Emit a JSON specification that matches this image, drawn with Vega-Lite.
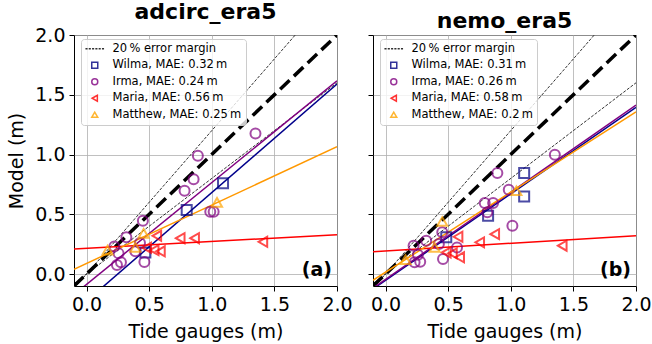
{
  "$schema": "https://vega.github.io/schema/vega-lite/v6.json",
  "padding": {"left": 7, "top": 0, "right": 0, "bottom": 0},
  "background": "white",
  "config": {
    "font": "DejaVu Sans",
    "view": {"stroke": "black", "strokeWidth": 1},
    "point": {"size": 100},
    "axis": {
      "labelFont": "DejaVu Sans", "labelFontSize": 19, "labelColor": "black",
      "titleFont": "DejaVu Sans", "titleFontSize": 19, "titleFontWeight": "normal", "titleColor": "black",
      "tickColor": "black", "tickSize": 5, "domain": false,
      "grid": true, "gridColor": "#b0b0b0", "gridWidth": 0.8,
      "labelPadding": 4, "titlePadding": 8
    },
    "title": {"font": "DejaVu Sans", "fontSize": 22, "fontWeight": "bold", "color": "black", "offset": 2},
    "legend": {
      "orient": "none", "legendX": 7, "legendY": 4,
      "fillColor": "rgba(255,255,255,0.8)", "strokeColor": "#cccccc", "cornerRadius": 3,
      "padding": 4, "labelFont": "DejaVu Sans", "labelFontSize": 11.5, "labelColor": "black",
      "symbolSize": 36, "symbolStrokeWidth": 1.5, "rowPadding": 3.5, "labelOffset": 12,
      "symbolOffset": 4, "labelLimit": 0, "symbolOpacity": 0.8
    }
  },
  "datasets": {
    "refs": [
      {"line": "1:1", "obs": -0.1, "model": -0.1},
      {"line": "1:1", "obs": 2.0, "model": 2.0},
      {"line": "+20%", "obs": -0.1, "model": -0.12},
      {"line": "+20%", "obs": 2.0, "model": 2.4},
      {"line": "-20%", "obs": -0.1, "model": -0.08},
      {"line": "-20%", "obs": 2.0, "model": 1.6}
    ],
    "fits": [
      {"panel": "adcirc_era5", "storm": "Wilma", "obs": -0.1, "model": -0.317},
      {"panel": "adcirc_era5", "storm": "Wilma", "obs": 2.0, "model": 1.59},
      {"panel": "adcirc_era5", "storm": "Irma", "obs": -0.1, "model": -0.172},
      {"panel": "adcirc_era5", "storm": "Irma", "obs": 2.0, "model": 1.617},
      {"panel": "adcirc_era5", "storm": "Maria", "obs": -0.1, "model": 0.21},
      {"panel": "adcirc_era5", "storm": "Maria", "obs": 2.0, "model": 0.329},
      {"panel": "adcirc_era5", "storm": "Matthew", "obs": -0.1, "model": 0.04},
      {"panel": "adcirc_era5", "storm": "Matthew", "obs": 2.0, "model": 1.065},
      {"panel": "nemo_era5", "storm": "Wilma", "obs": -0.1, "model": -0.125},
      {"panel": "nemo_era5", "storm": "Wilma", "obs": 2.0, "model": 1.394},
      {"panel": "nemo_era5", "storm": "Irma", "obs": -0.1, "model": -0.118},
      {"panel": "nemo_era5", "storm": "Irma", "obs": 2.0, "model": 1.413},
      {"panel": "nemo_era5", "storm": "Maria", "obs": -0.1, "model": 0.187},
      {"panel": "nemo_era5", "storm": "Maria", "obs": 2.0, "model": 0.321},
      {"panel": "nemo_era5", "storm": "Matthew", "obs": -0.1, "model": -0.052},
      {"panel": "nemo_era5", "storm": "Matthew", "obs": 2.0, "model": 1.357}
    ],
    "points": [
      {"panel": "adcirc_era5", "storm": "Wilma", "obs": 0.47, "model": 0.18},
      {"panel": "adcirc_era5", "storm": "Wilma", "obs": 0.8, "model": 0.535},
      {"panel": "adcirc_era5", "storm": "Wilma", "obs": 1.09, "model": 0.76},
      {"panel": "adcirc_era5", "storm": "Irma", "obs": 0.222, "model": 0.231},
      {"panel": "adcirc_era5", "storm": "Irma", "obs": 0.318, "model": 0.307},
      {"panel": "adcirc_era5", "storm": "Irma", "obs": 0.256, "model": 0.173},
      {"panel": "adcirc_era5", "storm": "Irma", "obs": 0.243, "model": 0.075},
      {"panel": "adcirc_era5", "storm": "Irma", "obs": 0.275, "model": 0.098},
      {"panel": "adcirc_era5", "storm": "Irma", "obs": 0.39, "model": 0.19},
      {"panel": "adcirc_era5", "storm": "Irma", "obs": 0.427, "model": 0.259},
      {"panel": "adcirc_era5", "storm": "Irma", "obs": 0.45, "model": 0.446},
      {"panel": "adcirc_era5", "storm": "Irma", "obs": 0.462, "model": 0.1},
      {"panel": "adcirc_era5", "storm": "Irma", "obs": 0.783, "model": 0.697},
      {"panel": "adcirc_era5", "storm": "Irma", "obs": 0.855, "model": 0.794},
      {"panel": "adcirc_era5", "storm": "Irma", "obs": 0.889, "model": 0.989},
      {"panel": "adcirc_era5", "storm": "Irma", "obs": 0.988, "model": 0.521},
      {"panel": "adcirc_era5", "storm": "Irma", "obs": 1.015, "model": 0.521},
      {"panel": "adcirc_era5", "storm": "Irma", "obs": 1.349, "model": 1.176},
      {"panel": "adcirc_era5", "storm": "Maria", "obs": 0.561, "model": 0.32},
      {"panel": "adcirc_era5", "storm": "Maria", "obs": 0.748, "model": 0.3},
      {"panel": "adcirc_era5", "storm": "Maria", "obs": 0.863, "model": 0.3},
      {"panel": "adcirc_era5", "storm": "Maria", "obs": 1.408, "model": 0.27},
      {"panel": "adcirc_era5", "storm": "Maria", "obs": 0.48, "model": 0.22},
      {"panel": "adcirc_era5", "storm": "Maria", "obs": 0.54, "model": 0.2},
      {"panel": "adcirc_era5", "storm": "Maria", "obs": 0.59, "model": 0.19},
      {"panel": "adcirc_era5", "storm": "Matthew", "obs": 0.168, "model": 0.2},
      {"panel": "adcirc_era5", "storm": "Matthew", "obs": 0.39, "model": 0.223},
      {"panel": "adcirc_era5", "storm": "Matthew", "obs": 0.456, "model": 0.34},
      {"panel": "adcirc_era5", "storm": "Matthew", "obs": 1.042, "model": 0.6},
      {"panel": "nemo_era5", "storm": "Wilma", "obs": 1.107, "model": 0.845},
      {"panel": "nemo_era5", "storm": "Wilma", "obs": 1.107, "model": 0.649},
      {"panel": "nemo_era5", "storm": "Wilma", "obs": 0.819, "model": 0.488},
      {"panel": "nemo_era5", "storm": "Wilma", "obs": 0.485, "model": 0.307},
      {"panel": "nemo_era5", "storm": "Irma", "obs": 0.224, "model": 0.237},
      {"panel": "nemo_era5", "storm": "Irma", "obs": 0.325, "model": 0.279},
      {"panel": "nemo_era5", "storm": "Irma", "obs": 0.259, "model": 0.161},
      {"panel": "nemo_era5", "storm": "Irma", "obs": 0.232, "model": 0.098},
      {"panel": "nemo_era5", "storm": "Irma", "obs": 0.277, "model": 0.103},
      {"panel": "nemo_era5", "storm": "Irma", "obs": 0.426, "model": 0.251},
      {"panel": "nemo_era5", "storm": "Irma", "obs": 0.453, "model": 0.349},
      {"panel": "nemo_era5", "storm": "Irma", "obs": 0.459, "model": 0.125},
      {"panel": "nemo_era5", "storm": "Irma", "obs": 0.571, "model": 0.223},
      {"panel": "nemo_era5", "storm": "Irma", "obs": 0.792, "model": 0.594},
      {"panel": "nemo_era5", "storm": "Irma", "obs": 0.813, "model": 0.516},
      {"panel": "nemo_era5", "storm": "Irma", "obs": 0.859, "model": 0.594},
      {"panel": "nemo_era5", "storm": "Irma", "obs": 0.893, "model": 0.845},
      {"panel": "nemo_era5", "storm": "Irma", "obs": 0.984, "model": 0.705},
      {"panel": "nemo_era5", "storm": "Irma", "obs": 1.013, "model": 0.404},
      {"panel": "nemo_era5", "storm": "Irma", "obs": 1.352, "model": 0.998},
      {"panel": "nemo_era5", "storm": "Maria", "obs": 0.579, "model": 0.312},
      {"panel": "nemo_era5", "storm": "Maria", "obs": 0.752, "model": 0.265},
      {"panel": "nemo_era5", "storm": "Maria", "obs": 0.872, "model": 0.334},
      {"panel": "nemo_era5", "storm": "Maria", "obs": 1.411, "model": 0.237},
      {"panel": "nemo_era5", "storm": "Maria", "obs": 0.485, "model": 0.181},
      {"panel": "nemo_era5", "storm": "Maria", "obs": 0.534, "model": 0.173},
      {"panel": "nemo_era5", "storm": "Maria", "obs": 0.592, "model": 0.14},
      {"panel": "nemo_era5", "storm": "Matthew", "obs": 0.16, "model": 0.12},
      {"panel": "nemo_era5", "storm": "Matthew", "obs": 0.392, "model": 0.223},
      {"panel": "nemo_era5", "storm": "Matthew", "obs": 0.453, "model": 0.44},
      {"panel": "nemo_era5", "storm": "Matthew", "obs": 1.045, "model": 0.697}
    ]
  },
  "spacing": 36,
  "bounds": "flush",
  "resolve": {
    "scale": {"color": "independent", "shape": "independent", "stroke": "independent"},
    "legend": {"color": "independent", "shape": "independent"}
  },
  "hconcat": [
    {
      "width": 263, "height": 251,
      "title": {"text": "adcirc_era5"},
      "layer": [
        {"data": {"name": "refs"}, "transform": [{"filter": "datum.line != '1:1'"}],
         "mark": {"type": "line", "clip": true, "stroke": "black", "strokeWidth": 0.8, "strokeDash": [3, 1.5]},
         "encoding": {
           "x": {"field": "obs", "type": "quantitative", "scale": {"domain": [-0.1, 2], "nice": false, "zero": false}, "axis": {"values": [0, 0.5, 1, 1.5, 2], "format": ".1f", "title": "Tide gauges (m)", "labelFlush": false}},
           "y": {"field": "model", "type": "quantitative", "scale": {"domain": [-0.1, 2], "nice": false, "zero": false}, "axis": {"values": [0, 0.5, 1, 1.5, 2], "format": ".1f", "title": "Model (m)"}},
           "detail": {"field": "line"}}},
        {"data": {"name": "refs"}, "transform": [{"filter": "datum.line == '1:1'"}],
         "mark": {"type": "line", "clip": true, "stroke": "black", "strokeWidth": 3.5, "strokeDash": [13, 6]},
         "encoding": {
           "x": {"field": "obs", "type": "quantitative", "axis": {"values": [0, 0.5, 1, 1.5, 2], "format": ".1f", "title": "Tide gauges (m)", "labelFlush": false}},
           "y": {"field": "model", "type": "quantitative", "axis": {"values": [0, 0.5, 1, 1.5, 2], "format": ".1f", "title": "Model (m)"}}}},
        {"data": {"name": "fits"}, "transform": [{"filter": "datum.panel == 'adcirc_era5'"}],
         "mark": {"type": "line", "clip": true, "strokeWidth": 1.5},
         "encoding": {
           "x": {"field": "obs", "type": "quantitative", "axis": {"values": [0, 0.5, 1, 1.5, 2], "format": ".1f", "title": "Tide gauges (m)", "labelFlush": false}},
           "y": {"field": "model", "type": "quantitative", "axis": {"values": [0, 0.5, 1, 1.5, 2], "format": ".1f", "title": "Model (m)"}},
           "stroke": {"field": "storm", "type": "nominal",
           "scale": {"domain": ["Wilma", "Irma", "Maria", "Matthew"], "range": ["#00008b", "#800080", "#ff0000", "#ff9800"]}, "legend": null}}},
        {"data": {"name": "points"}, "transform": [{"filter": "datum.panel == 'adcirc_era5'"}],
         "mark": {"type": "point", "filled": false, "strokeWidth": 2, "opacity": 0.7},
         "encoding": {
           "x": {"field": "obs", "type": "quantitative", "axis": {"values": [0, 0.5, 1, 1.5, 2], "format": ".1f", "title": "Tide gauges (m)", "labelFlush": false}},
           "y": {"field": "model", "type": "quantitative", "axis": {"values": [0, 0.5, 1, 1.5, 2], "format": ".1f", "title": "Model (m)"}},
           "color": {"field": "storm", "type": "nominal",
             "scale": {"domain": ["20% error margin", "Wilma", "Irma", "Maria", "Matthew"], "range": ["#000000", "#000080", "#800080", "#ff0000", "#ffa500"]},
             "legend": {"title": null, "symbolSize": 36, "labelExpr": "datum.label == 'Wilma' ? 'Wilma, MAE: 0.32\u2009m' : datum.label == 'Irma' ? 'Irma, MAE: 0.24\u2009m' : datum.label == 'Maria' ? 'Maria, MAE: 0.56\u2009m' : datum.label == 'Matthew' ? 'Matthew, MAE: 0.25\u2009m' : '20\u2009% error margin'"}},
           "shape": {"field": "storm", "type": "nominal",
             "scale": {"domain": ["20% error margin", "Wilma", "Irma", "Maria", "Matthew"], "range": ["M-3.1,0H-2.4M-2,0H-1.3M-0.9,0H-0.2M0.2,0H0.9M1.3,0H2M2.4,0H3.1", "square", "circle", "triangle-left", "triangle-up"]},
             "legend": {"title": null, "symbolSize": 36, "labelExpr": "datum.label == 'Wilma' ? 'Wilma, MAE: 0.32\u2009m' : datum.label == 'Irma' ? 'Irma, MAE: 0.24\u2009m' : datum.label == 'Maria' ? 'Maria, MAE: 0.56\u2009m' : datum.label == 'Matthew' ? 'Matthew, MAE: 0.25\u2009m' : '20\u2009% error margin'"}}
         }},
        {"data": {"values": [{"tag": "(a)"}]},
         "mark": {"type": "text", "align": "right", "baseline": "bottom", "dx": -5, "dy": -6, "fontSize": 19, "fontWeight": "bold", "font": "DejaVu Sans", "color": "black"},
         "encoding": {
           "x": {"datum": 2, "type": "quantitative", "axis": {"values": [0, 0.5, 1, 1.5, 2], "format": ".1f", "title": "Tide gauges (m)", "labelFlush": false}},
           "y": {"datum": -0.1, "type": "quantitative", "axis": {"values": [0, 0.5, 1, 1.5, 2], "format": ".1f", "title": "Model (m)"}},
           "text": {"field": "tag"}}}
      ]
    },
    {
      "width": 263, "height": 251,
      "title": {"text": "nemo_era5"},
      "layer": [
        {"data": {"name": "refs"}, "transform": [{"filter": "datum.line != '1:1'"}],
         "mark": {"type": "line", "clip": true, "stroke": "black", "strokeWidth": 0.8, "strokeDash": [3, 1.5]},
         "encoding": {
           "x": {"field": "obs", "type": "quantitative", "scale": {"domain": [-0.1, 2], "nice": false, "zero": false}, "axis": {"values": [0, 0.5, 1, 1.5, 2], "format": ".1f", "title": "Tide gauges (m)", "labelFlush": false}},
           "y": {"field": "model", "type": "quantitative", "scale": {"domain": [-0.1, 2], "nice": false, "zero": false}, "axis": {"values": [0, 0.5, 1, 1.5, 2], "labels": false, "title": null}},
           "detail": {"field": "line"}}},
        {"data": {"name": "refs"}, "transform": [{"filter": "datum.line == '1:1'"}],
         "mark": {"type": "line", "clip": true, "stroke": "black", "strokeWidth": 3.5, "strokeDash": [13, 6]},
         "encoding": {
           "x": {"field": "obs", "type": "quantitative", "axis": {"values": [0, 0.5, 1, 1.5, 2], "format": ".1f", "title": "Tide gauges (m)", "labelFlush": false}},
           "y": {"field": "model", "type": "quantitative", "axis": {"values": [0, 0.5, 1, 1.5, 2], "labels": false, "title": null}}}},
        {"data": {"name": "fits"}, "transform": [{"filter": "datum.panel == 'nemo_era5'"}],
         "mark": {"type": "line", "clip": true, "strokeWidth": 1.5},
         "encoding": {
           "x": {"field": "obs", "type": "quantitative", "axis": {"values": [0, 0.5, 1, 1.5, 2], "format": ".1f", "title": "Tide gauges (m)", "labelFlush": false}},
           "y": {"field": "model", "type": "quantitative", "axis": {"values": [0, 0.5, 1, 1.5, 2], "labels": false, "title": null}},
           "stroke": {"field": "storm", "type": "nominal",
           "scale": {"domain": ["Wilma", "Irma", "Maria", "Matthew"], "range": ["#00008b", "#800080", "#ff0000", "#ff9800"]}, "legend": null}}},
        {"data": {"name": "points"}, "transform": [{"filter": "datum.panel == 'nemo_era5'"}],
         "mark": {"type": "point", "filled": false, "strokeWidth": 2, "opacity": 0.7},
         "encoding": {
           "x": {"field": "obs", "type": "quantitative", "axis": {"values": [0, 0.5, 1, 1.5, 2], "format": ".1f", "title": "Tide gauges (m)", "labelFlush": false}},
           "y": {"field": "model", "type": "quantitative", "axis": {"values": [0, 0.5, 1, 1.5, 2], "labels": false, "title": null}},
           "color": {"field": "storm", "type": "nominal",
             "scale": {"domain": ["20% error margin", "Wilma", "Irma", "Maria", "Matthew"], "range": ["#000000", "#000080", "#800080", "#ff0000", "#ffa500"]},
             "legend": {"title": null, "symbolSize": 36, "labelExpr": "datum.label == 'Wilma' ? 'Wilma, MAE: 0.31\u2009m' : datum.label == 'Irma' ? 'Irma, MAE: 0.26\u2009m' : datum.label == 'Maria' ? 'Maria, MAE: 0.58\u2009m' : datum.label == 'Matthew' ? 'Matthew, MAE: 0.2\u2009m' : '20\u2009% error margin'"}},
           "shape": {"field": "storm", "type": "nominal",
             "scale": {"domain": ["20% error margin", "Wilma", "Irma", "Maria", "Matthew"], "range": ["M-3.1,0H-2.4M-2,0H-1.3M-0.9,0H-0.2M0.2,0H0.9M1.3,0H2M2.4,0H3.1", "square", "circle", "triangle-left", "triangle-up"]},
             "legend": {"title": null, "symbolSize": 36, "labelExpr": "datum.label == 'Wilma' ? 'Wilma, MAE: 0.31\u2009m' : datum.label == 'Irma' ? 'Irma, MAE: 0.26\u2009m' : datum.label == 'Maria' ? 'Maria, MAE: 0.58\u2009m' : datum.label == 'Matthew' ? 'Matthew, MAE: 0.2\u2009m' : '20\u2009% error margin'"}}
         }},
        {"data": {"values": [{"tag": "(b)"}]},
         "mark": {"type": "text", "align": "right", "baseline": "bottom", "dx": -5, "dy": -6, "fontSize": 19, "fontWeight": "bold", "font": "DejaVu Sans", "color": "black"},
         "encoding": {
           "x": {"datum": 2, "type": "quantitative", "axis": {"values": [0, 0.5, 1, 1.5, 2], "format": ".1f", "title": "Tide gauges (m)", "labelFlush": false}},
           "y": {"datum": -0.1, "type": "quantitative", "axis": {"values": [0, 0.5, 1, 1.5, 2], "labels": false, "title": null}},
           "text": {"field": "tag"}}}
      ]
    }
  ]
}
